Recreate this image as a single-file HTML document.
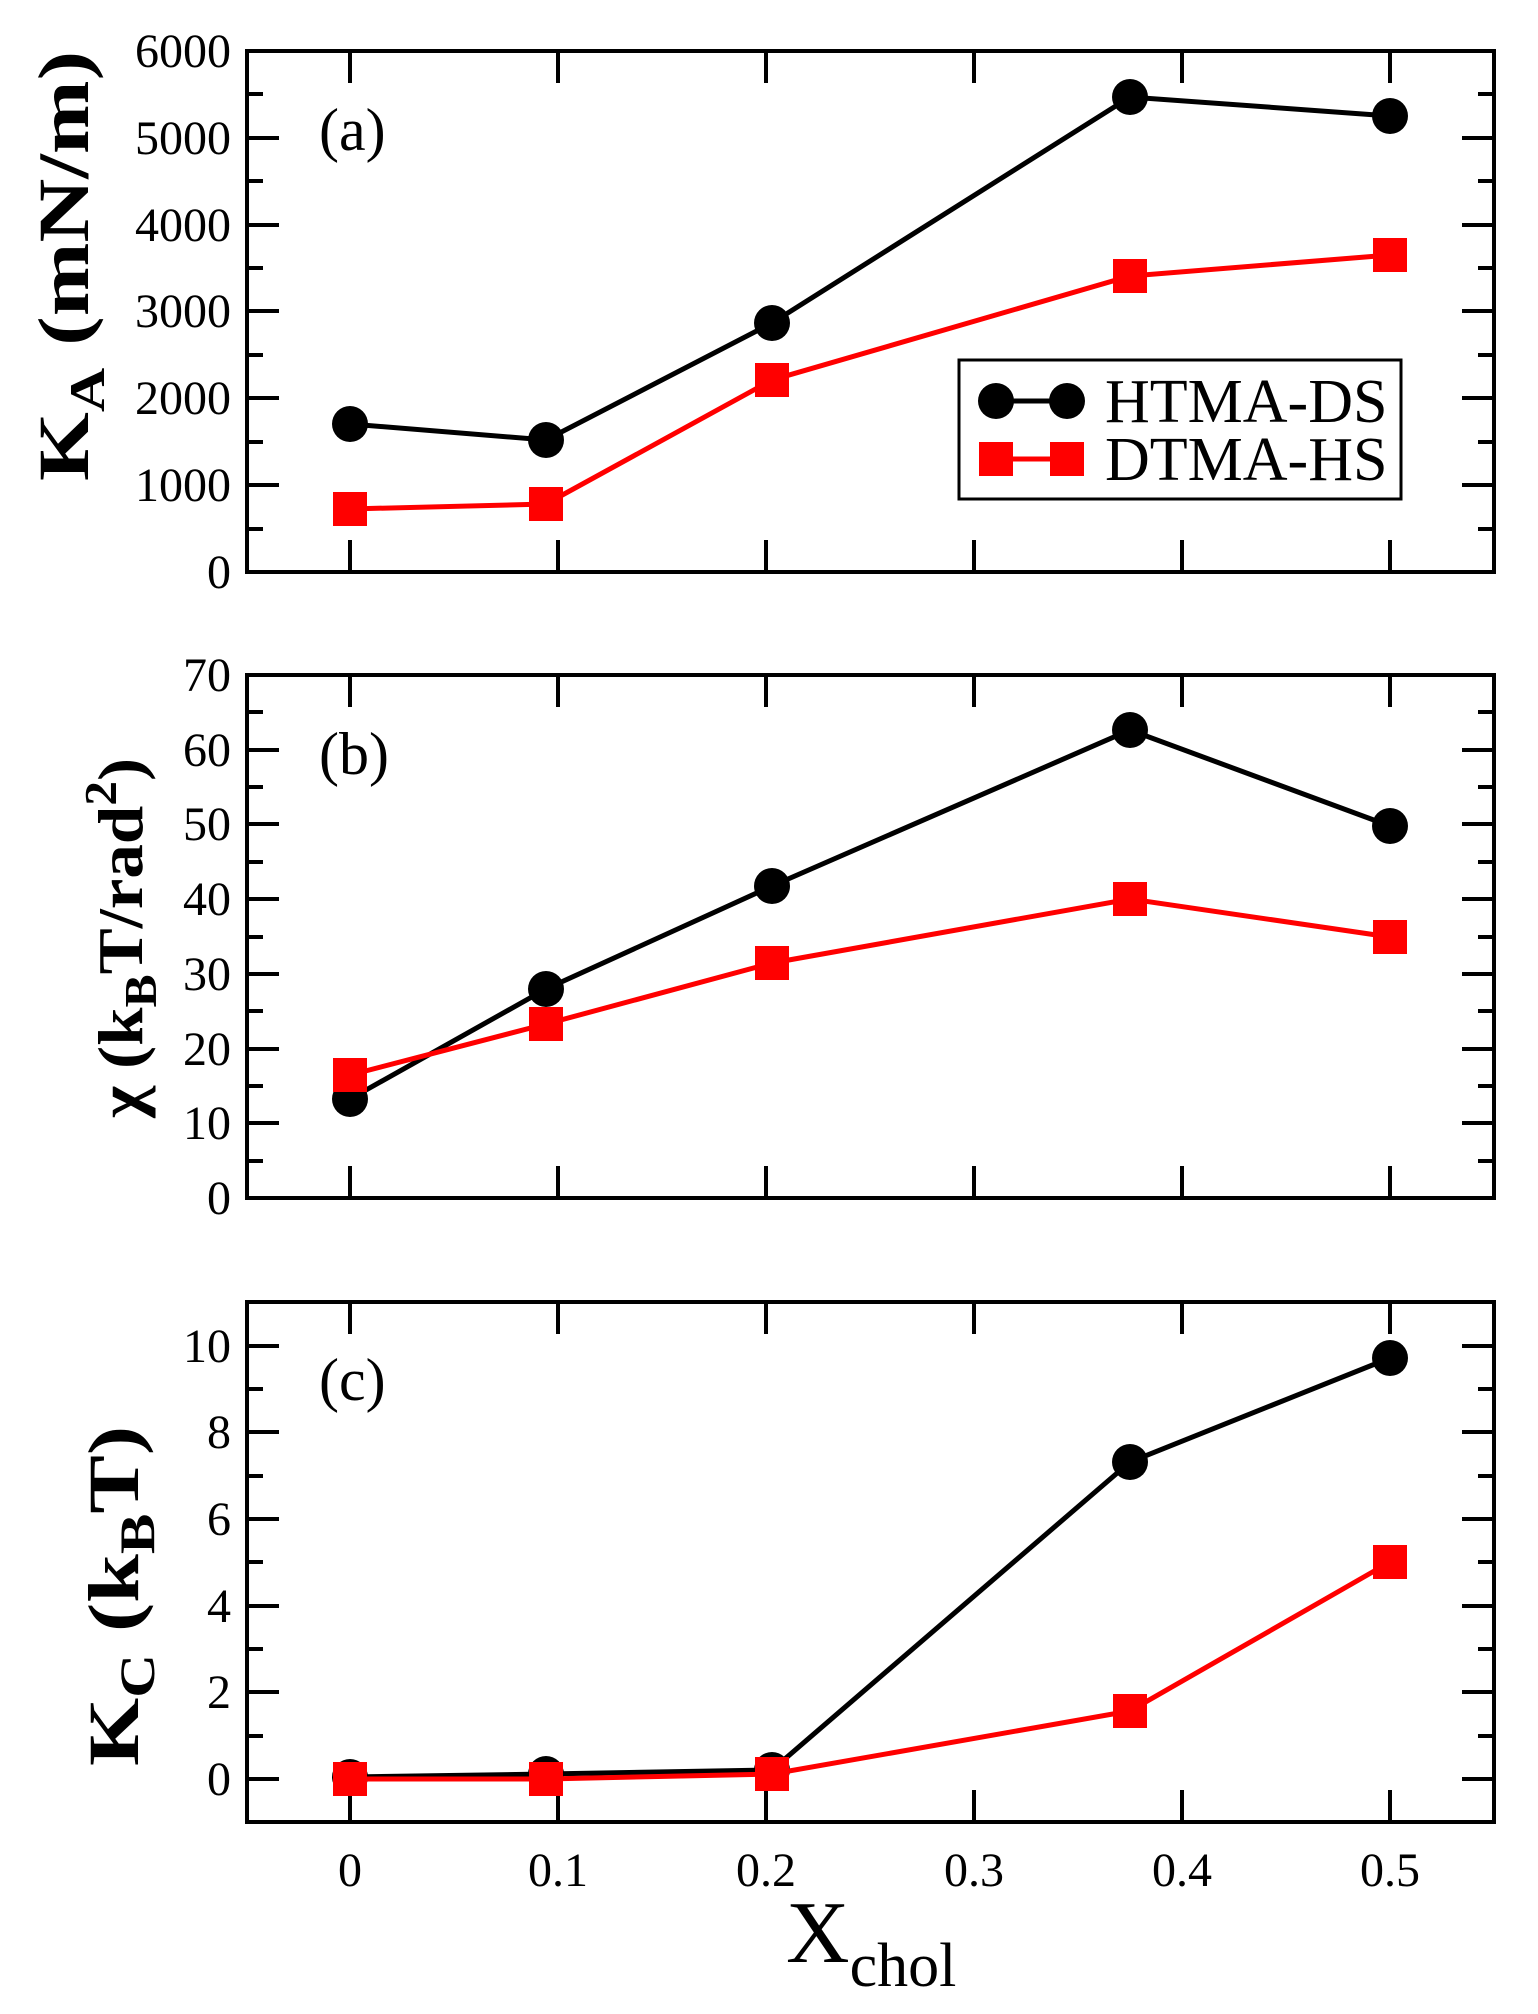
<!DOCTYPE html>
<html><head><meta charset="utf-8"><style>html,body{margin:0;padding:0;background:#fff}svg{display:block}</style></head>
<body>
<svg width="1538" height="2014" viewBox="0 0 1538 2014" xmlns="http://www.w3.org/2000/svg" font-family="Liberation Serif, serif">
<defs>
<g id="xt"><path d="M350 0v-32M558 0v-32M766 0v-32M974 0v-32M1182 0v-32M1390 0v-32" stroke="#000" stroke-width="4"/></g>
<g id="xtt"><path d="M350 0v32M558 0v32M766 0v32M974 0v32M1182 0v32M1390 0v32" stroke="#000" stroke-width="4"/></g>
</defs>

<!-- Panel a -->
<rect x="247" y="51" width="1247" height="521" fill="none" stroke="#000" stroke-width="4"/>
<use href="#xt" y="572"/><use href="#xtt" y="51"/>
<path stroke="#000" stroke-width="4" d="M247 485h32M247 398h32M247 311h32M247 225h32M247 138h32M247 529h16M247 442h16M247 355h16M247 268h16M247 181h16M247 94h16
M1494 485h-32M1494 398h-32M1494 311h-32M1494 225h-32M1494 138h-32M1494 529h-16M1494 442h-16M1494 355h-16M1494 268h-16M1494 181h-16M1494 94h-16"/>
<g font-size="48" text-anchor="end">
<text x="231" y="588">0</text><text x="231" y="501">1000</text><text x="231" y="414">2000</text><text x="231" y="327">3000</text><text x="231" y="241">4000</text><text x="231" y="154">5000</text><text x="231" y="67">6000</text>
</g>
<text x="319" y="150" font-size="60">(a)</text>
<polyline points="350,424 546,440 772,323 1130,97 1390,116" fill="none" stroke="#000" stroke-width="5"/>
<g fill="#000"><circle cx="350" cy="424" r="18"/><circle cx="546" cy="440" r="18"/><circle cx="772" cy="323" r="18"/><circle cx="1130" cy="97" r="18"/><circle cx="1390" cy="116" r="18"/></g>
<polyline points="350,509 546,504 772,380 1130,276 1390,255" fill="none" stroke="#f00" stroke-width="5"/>
<g fill="#f00"><rect x="333" y="492" width="34" height="34"/><rect x="529" y="487" width="34" height="34"/><rect x="755" y="363" width="34" height="34"/><rect x="1113" y="259" width="34" height="34"/><rect x="1373" y="238" width="34" height="34"/></g>
<text transform="translate(88,266) rotate(-90)" font-size="72" font-weight="bold" text-anchor="middle" textLength="430" lengthAdjust="spacingAndGlyphs">K<tspan font-size="50" dy="16">A</tspan><tspan dy="-16"> (mN/m)</tspan></text>
<!-- legend -->
<rect x="959" y="360" width="442" height="139" fill="#fff" stroke="#000" stroke-width="3"/>
<line x1="996" y1="401" x2="1067" y2="401" stroke="#000" stroke-width="5"/>
<circle cx="996" cy="401" r="18"/><circle cx="1067" cy="401" r="18"/>
<line x1="996" y1="459" x2="1067" y2="459" stroke="#f00" stroke-width="5"/>
<rect x="979" y="442" width="34" height="34" fill="#f00"/><rect x="1050" y="442" width="34" height="34" fill="#f00"/>
<text x="1105" y="422" font-size="62">HTMA-DS</text>
<text x="1105" y="480" font-size="62">DTMA-HS</text>

<!-- Panel b -->
<rect x="247" y="675" width="1247" height="523" fill="none" stroke="#000" stroke-width="4"/>
<use href="#xt" y="1198"/><use href="#xtt" y="675"/>
<path stroke="#000" stroke-width="4" d="M247 1123h32M247 1049h32M247 974h32M247 899h32M247 824h32M247 750h32M247 1161h16M247 1086h16M247 1011h16M247 937h16M247 862h16M247 787h16M247 712h16
M1494 1123h-32M1494 1049h-32M1494 974h-32M1494 899h-32M1494 824h-32M1494 750h-32M1494 1161h-16M1494 1086h-16M1494 1011h-16M1494 937h-16M1494 862h-16M1494 787h-16M1494 712h-16"/>
<g font-size="48" text-anchor="end">
<text x="231" y="1214">0</text><text x="231" y="1139">10</text><text x="231" y="1065">20</text><text x="231" y="990">30</text><text x="231" y="915">40</text><text x="231" y="840">50</text><text x="231" y="766">60</text><text x="231" y="691">70</text>
</g>
<text x="319" y="774" font-size="60">(b)</text>
<polyline points="350,1099 546,989 772,886 1130,730 1390,826" fill="none" stroke="#000" stroke-width="5"/>
<g fill="#000"><circle cx="350" cy="1099" r="18"/><circle cx="546" cy="989" r="18"/><circle cx="772" cy="886" r="18"/><circle cx="1130" cy="730" r="18"/><circle cx="1390" cy="826" r="18"/></g>
<polyline points="350,1075 546,1024 772,963 1130,899 1390,937" fill="none" stroke="#f00" stroke-width="5"/>
<g fill="#f00"><rect x="333" y="1058" width="34" height="34"/><rect x="529" y="1007" width="34" height="34"/><rect x="755" y="946" width="34" height="34"/><rect x="1113" y="882" width="34" height="34"/><rect x="1373" y="920" width="34" height="34"/></g>
<text transform="translate(142,938) rotate(-90)" font-size="64" font-weight="bold" text-anchor="middle" textLength="360" lengthAdjust="spacingAndGlyphs">χ (k<tspan font-size="46" dy="14">B</tspan><tspan dy="-14">T/rad</tspan><tspan font-size="46" dy="-26">2</tspan><tspan dy="26">)</tspan></text>

<!-- Panel c -->
<rect x="247" y="1302" width="1247" height="520" fill="none" stroke="#000" stroke-width="4"/>
<use href="#xt" y="1822"/><use href="#xtt" y="1302"/>
<path stroke="#000" stroke-width="4" d="M247 1779h32M247 1692h32M247 1606h32M247 1519h32M247 1432h32M247 1346h32M247 1736h16M247 1649h16M247 1562h16M247 1476h16M247 1389h16
M1494 1779h-32M1494 1692h-32M1494 1606h-32M1494 1519h-32M1494 1432h-32M1494 1346h-32M1494 1736h-16M1494 1649h-16M1494 1562h-16M1494 1476h-16M1494 1389h-16"/>
<g font-size="48" text-anchor="end">
<text x="231" y="1795">0</text><text x="231" y="1708">2</text><text x="231" y="1622">4</text><text x="231" y="1535">6</text><text x="231" y="1448">8</text><text x="231" y="1362">10</text>
</g>
<text x="319" y="1400" font-size="60">(c)</text>
<polyline points="350,1777 546,1774 772,1770 1130,1462 1390,1358" fill="none" stroke="#000" stroke-width="5"/>
<g fill="#000"><circle cx="350" cy="1777" r="18"/><circle cx="546" cy="1774" r="18"/><circle cx="772" cy="1770" r="18"/><circle cx="1130" cy="1462" r="18"/><circle cx="1390" cy="1358" r="18"/></g>
<polyline points="350,1779 546,1779 772,1774 1130,1711 1390,1562" fill="none" stroke="#f00" stroke-width="5"/>
<g fill="#f00"><rect x="333" y="1762" width="34" height="34"/><rect x="529" y="1762" width="34" height="34"/><rect x="755" y="1757" width="34" height="34"/><rect x="1113" y="1694" width="34" height="34"/><rect x="1373" y="1545" width="34" height="34"/></g>
<text transform="translate(138,1596) rotate(-90)" font-size="72" font-weight="bold" text-anchor="middle" textLength="340" lengthAdjust="spacingAndGlyphs">K<tspan font-size="50" dy="16">C</tspan><tspan dy="-16"> (k</tspan><tspan font-size="50" dy="16">B</tspan><tspan dy="-16">T)</tspan></text>

<g font-size="48" text-anchor="middle">
<text x="350" y="1886">0</text><text x="558" y="1886">0.1</text><text x="766" y="1886">0.2</text><text x="974" y="1886">0.3</text><text x="1182" y="1886">0.4</text><text x="1390" y="1886">0.5</text>
</g>
<text x="786" y="1962" font-size="88">X<tspan font-size="62" dy="24">chol</tspan></text>
</svg>
</body></html>
